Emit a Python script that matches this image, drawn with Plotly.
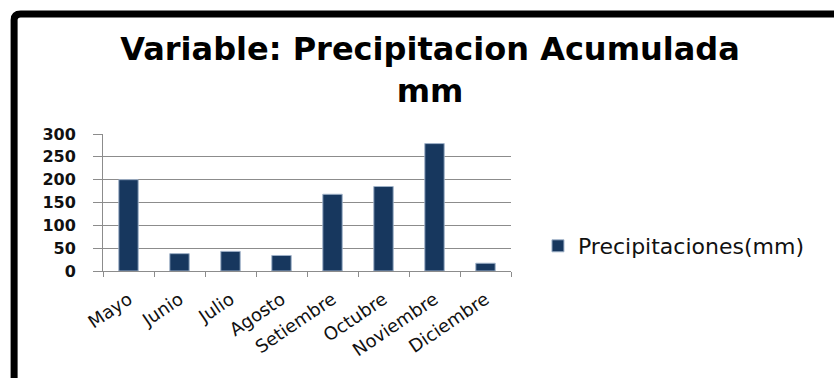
import plotly.graph_objects as go

# Monthly accumulated rainfall (mm)
meses = ["Mayo", "Junio", "Julio", "Agosto", "Setiembre", "Octubre", "Noviembre", "Diciembre"]
precipitacion = [200, 38, 43, 34, 168, 185, 279, 17]
y_ticks = [0, 50, 100, 150, 200, 250, 300]

W, H = 834, 378
# plot-area edges in pixels
L, R, T, B = 102.5, 511, 134, 271


def px_x(px):
    return (px - L) / (R - L)


def px_y(py):
    return (B - py) / (B - T)


fig = go.Figure()
fig.add_trace(go.Bar(
    x=meses,
    y=precipitacion,
    name="Precipitaciones(mm)",
    marker=dict(color="#17375E", line=dict(color="#9fb1c8", width=1)),
    showlegend=True,
))

grid = "#8c8c8c"
fig.update_layout(
    width=W, height=H,
    margin=dict(l=L, r=W - R, t=T, b=H - B, autoexpand=False),
    paper_bgcolor="white",
    plot_bgcolor="white",
    bargap=0.62,
    title=dict(
        text="Variable: Precipitacion Acumulada<br>mm",
        font=dict(family="DejaVu Sans", size=32, color="black", weight="bold"),
        x=430 / W, xanchor="center",
        y=1 - 60 / H, yanchor="top", yref="container",
    ),
    xaxis=dict(
        type="category",
        tickson="boundaries",
        ticks="outside", ticklen=5, tickcolor=grid, tickwidth=1,
        showline=True, linecolor=grid, linewidth=1,
        showgrid=False,
        tickangle=-34,
        ticklabelstandoff=10,
        tickfont=dict(family="DejaVu Sans", size=18, color="#111"),
    ),
    yaxis=dict(
        range=[0, 300],
        tickvals=y_ticks,
        ticks="outside", ticklen=9, tickcolor=grid, tickwidth=1,
        showline=True, linecolor=grid, linewidth=1,
        showgrid=True, gridcolor=grid, gridwidth=1,
        zeroline=False,
        ticklabelstandoff=14,
        tickfont=dict(family="DejaVu Sans", size=16, color="#111", weight="bold"),
    ),
    legend=dict(
        x=px_x(538), xanchor="left",
        y=px_y(246), yanchor="middle",
        font=dict(family="DejaVu Sans", size=22, color="#111"),
        bgcolor="rgba(0,0,0,0)",
    ),
    shapes=[dict(
        type="path", xref="paper", yref="paper",
        path=(f"M {px_x(13.5)},{px_y(390)} L {px_x(13.5)},{px_y(20)} "
              f"Q {px_x(13.5)},{px_y(14)} {px_x(20)},{px_y(14)} "
              f"L {px_x(845)},{px_y(14)}"),
        line=dict(color="black", width=7),
    )],
)

fig.write_html("out.html")
